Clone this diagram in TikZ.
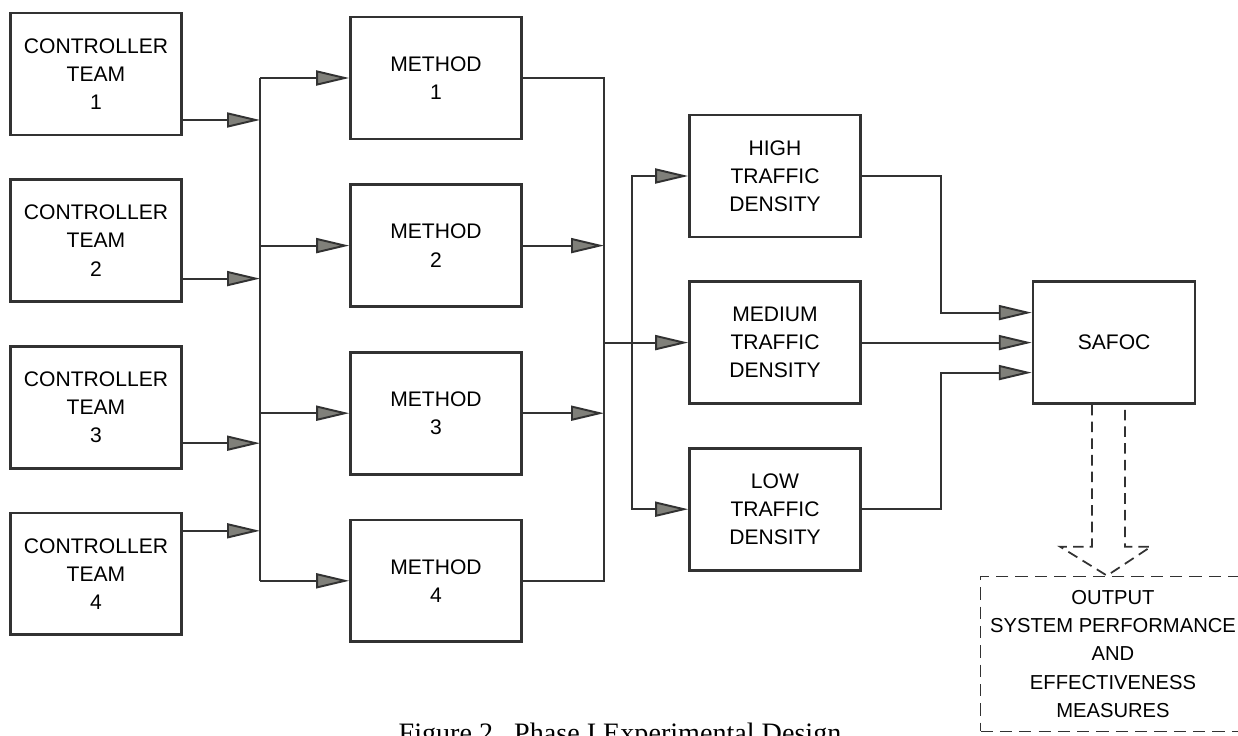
\documentclass[tikz,border=0pt]{standalone}
\usepackage{fontspec}
\setmainfont{Liberation Sans}
\newfontfamily\captionserif{Liberation Serif}
\usetikzlibrary{arrows.meta, positioning, calc}
\definecolor{inkgray}{RGB}{50,50,50}
\definecolor{tipgray}{RGB}{128,128,122}

\begin{document}
\begin{tikzpicture}[
    x=0.02cm, y=-0.02cm,
    block/.style={rectangle, draw=inkgray, line width=1.5pt, fill=white, minimum width=3.42cm, minimum height=2.44cm, inner sep=0pt, align=center, font=\fontsize{12}{16}\selectfont},
    outbox/.style={rectangle, draw=inkgray, line width=1pt, dash pattern=on 7pt off 4pt, minimum width=5.3cm, minimum height=3.1cm, inner sep=0pt, align=center, font=\fontsize{11.5}{16}\selectfont},
    wire/.style={line width=1.1pt, color=inkgray},
    arrow/.style={wire, -{Triangle[length=0.66cm, width=0.3cm, fill=tipgray]}},
    hollow/.style={line width=1pt, color=inkgray, dash pattern=on 6pt off 3.5pt}
]
\useasboundingbox (0,0) rectangle (1238,736);
\clip (0,0) rectangle (1238,736);
\node[block] (ct1) at (96,74) {CONTROLLER\\TEAM\\1};
\node[block, below=0.84cm of ct1] (ct2) {CONTROLLER\\TEAM\\2};
\node[block, below=0.84cm of ct2] (ct3) {CONTROLLER\\TEAM\\3};
\node[block, below=0.84cm of ct3] (ct4) {CONTROLLER\\TEAM\\4};
\node[block] (m1) at (436,78) {METHOD\\1};
\node[block, below=0.86cm of m1] (m2) {METHOD\\2};
\node[block, below=0.86cm of m2] (m3) {METHOD\\3};
\node[block, below=0.86cm of m3] (m4) {METHOD\\4};
\node[block] (hi) at (775,176) {HIGH\\TRAFFIC\\DENSITY};
\node[block, below=0.84cm of hi] (med) {MEDIUM\\TRAFFIC\\DENSITY};
\node[block, below=0.84cm of med] (lo) {LOW\\TRAFFIC\\DENSITY};
\node[block, right=3.4cm of med, minimum width=3.24cm] (safoc) {SAFOC};
\node[outbox] (out) at (1113,654) {OUTPUT\\SYSTEM PERFORMANCE\\AND\\EFFECTIVENESS\\MEASURES};
\node[anchor=base, font=\captionserif\fontsize{16}{18}\selectfont] (caption) at (620,742) {Figure 2.\ \ Phase I Experimental Design};

\coordinate (bus1) at (260,0);
\coordinate (bus2) at (604,0);
\coordinate (bus3) at (632,0);
\coordinate (o1) at ([yshift=-0.92cm]ct1.east);
\coordinate (o2) at ([yshift=-0.76cm]ct2.east);
\coordinate (o3) at ([yshift=-0.72cm]ct3.east);
\coordinate (o4) at ([yshift=0.86cm]ct4.east);
\coordinate (s1) at ([yshift=0.6cm]safoc.west);
\coordinate (s3) at ([yshift=-0.6cm]safoc.west);

\foreach \o in {o1,o2,o3,o4}
    \draw[arrow] (\o) -- (\o -| bus1);
\draw[wire] (m1.west -| bus1) -- (m4.west -| bus1);
\foreach \m in {m1,m2,m3,m4}
    \draw[arrow] (\m.west -| bus1) -- (\m.west);
\draw[wire] (m1.east) -| (med.west -| bus2);
\draw[wire] (m4.east) -| (med.west -| bus2);
\draw[arrow] (m2.east) -- (m2.east -| bus2);
\draw[arrow] (m3.east) -- (m3.east -| bus2);
\draw[arrow] (med.west -| bus2) -- (med.west);
\draw[arrow] (med.west -| bus3) |- (hi.west);
\draw[arrow] (med.west -| bus3) |- (lo.west);
\draw[arrow] (hi.east) -| ([xshift=-1.82cm]s1) -- (s1);
\draw[arrow] (med.east) -- (safoc.west);
\draw[arrow] (lo.east) -| ([xshift=-1.82cm]s3) -- (s3);
\draw[hollow] ([xshift=-0.44cm]safoc.south) |- ([xshift=-1.06cm,yshift=0.58cm]out.north) -- ([xshift=-0.12cm]out.north) -- ([xshift=0.76cm,yshift=0.58cm]out.north) -| ([xshift=0.22cm]safoc.south);
\end{tikzpicture}
\end{document}
